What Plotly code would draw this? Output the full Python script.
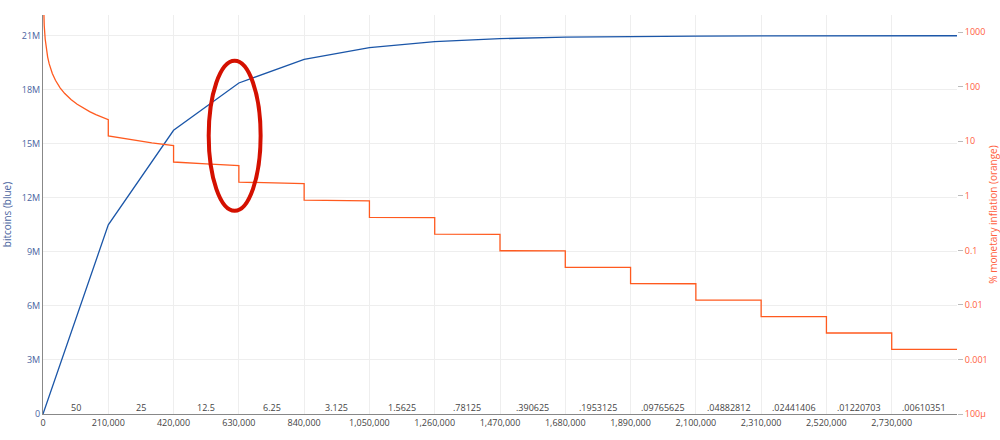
import plotly.graph_objects as go

# Block heights at each halving and total supply (blue)
halving_heights = [0, 210000, 420000, 630000, 840000, 1050000, 1260000, 1470000,
                   1680000, 1890000, 2100000, 2310000, 2520000, 2730000, 2940000]
supply_btc = [0, 10500000, 15750000, 18375000, 19687500, 20343750, 20671875,
              20835937.5, 20917968.75, 20958984.375, 20979492.19, 20989746.09,
              20994873.05, 20997436.52, 20998718.26]

# Annual monetary inflation in % (orange), with a drop at each halving
inflation_heights = [1000, 2000, 4000, 7000, 10000, 15000, 20000, 30000, 40000, 55000,
                     70000, 90000, 110000, 130000, 150000, 170000, 190000, 210000,
                     210000, 280000, 350000, 420000,
                     420000, 525000, 630000,
                     630000, 840000,
                     840000, 1050000,
                     1050000, 1260000,
                     1260000, 1470000,
                     1470000, 1680000,
                     1680000, 1890000,
                     1890000, 2100000,
                     2100000, 2310000,
                     2310000, 2520000,
                     2520000, 2730000,
                     2730000, 2940000]
inflation_pct = [5256, 2628, 1314, 750.9, 525.6, 350.4, 262.8, 175.2, 131.4, 95.56,
                 75.09, 58.40, 47.78, 40.43, 35.04, 30.92, 27.66, 25.03,
                 12.514, 10.727, 9.386, 8.343,
                 4.171, 3.851, 3.5755,
                 1.7878, 1.6686,
                 0.8343, 0.8074,
                 0.40369, 0.39728,
                 0.19864, 0.19707,
                 0.098538, 0.098151,
                 0.049076, 0.048980,
                 0.024490, 0.024466,
                 0.012233, 0.012227,
                 0.0061135, 0.0061120,
                 0.0030560, 0.0030556,
                 0.0015278, 0.0015277]

# Block reward per era (labels along the bottom)
reward_labels = ["50", "25", "12.5", "6.25", "3.125", "1.5625", ".78125", ".390625",
                 ".1953125", ".09765625", ".04882812", ".02441406", ".01220703", ".00610351"]

x_ticks = [0, 210000, 420000, 630000, 840000, 1050000, 1260000, 1470000, 1680000,
           1890000, 2100000, 2310000, 2520000, 2730000]

BLUE = "#1b56a8"
ORANGE = "#ff5a1f"
AXIS_BLUE = "#4a64a0"
AXIS_ORANGE = "#ff6040"

fig = go.Figure()
fig.add_trace(go.Scatter(x=halving_heights, y=supply_btc, mode="lines",
                         line=dict(color=BLUE, width=1.3), name="bitcoins",
                         showlegend=False))
fig.add_trace(go.Scatter(x=inflation_heights, y=inflation_pct, mode="lines",
                         line=dict(color=ORANGE, width=1.3), name="inflation",
                         yaxis="y2", showlegend=False))

annotations = []
for i, lab in enumerate(reward_labels):
    mid = (halving_heights[i] + halving_heights[i + 1]) / 2
    annotations.append(dict(x=mid, y=0, xref="x", yref="paper", text=lab,
                            showarrow=False, yanchor="bottom", xanchor="center",
                            yshift=-2, font=dict(size=9, color="#444")))

fig.update_layout(
    width=1000, height=440,
    margin=dict(l=43, r=43, t=15, b=26, autoexpand=False),
    paper_bgcolor="white", plot_bgcolor="white",
    font=dict(family="Open Sans", size=9, color="#444"),
    xaxis=dict(range=[0, 2940000], tickvals=x_ticks, tickformat=",",
               showgrid=True, gridcolor="#eeeeee", showline=True,
               linecolor="#888", linewidth=1, zeroline=False, automargin=False,
               tickfont=dict(size=9, color="#444")),
    yaxis=dict(range=[0, 22150000], dtick=3000000, showgrid=True,
               gridcolor="#eeeeee", showline=True, linecolor="#888",
               zeroline=False, automargin=False,
               tickfont=dict(size=9, color=AXIS_BLUE),
               title=dict(text="bitcoins (blue)", font=dict(size=10, color=AXIS_BLUE))),
    yaxis2=dict(type="log", range=[-4, 3.316], overlaying="y", side="right",
                showgrid=False, zeroline=False, showline=False, automargin=False,
                ticks="outside", ticklen=5, tickcolor="#bbb",
                tickfont=dict(size=9, color=AXIS_ORANGE),
                title=dict(text="% monetary inflation (orange)",
                           font=dict(size=10, color=AXIS_ORANGE))),
    annotations=annotations,
    shapes=[dict(type="circle", xref="x", yref="y",
                 x0=533000, x1=700000, y0=11280000, y1=19610000,
                 line=dict(color="#d41000", width=4))],
)

fig.write_html("out.html")
